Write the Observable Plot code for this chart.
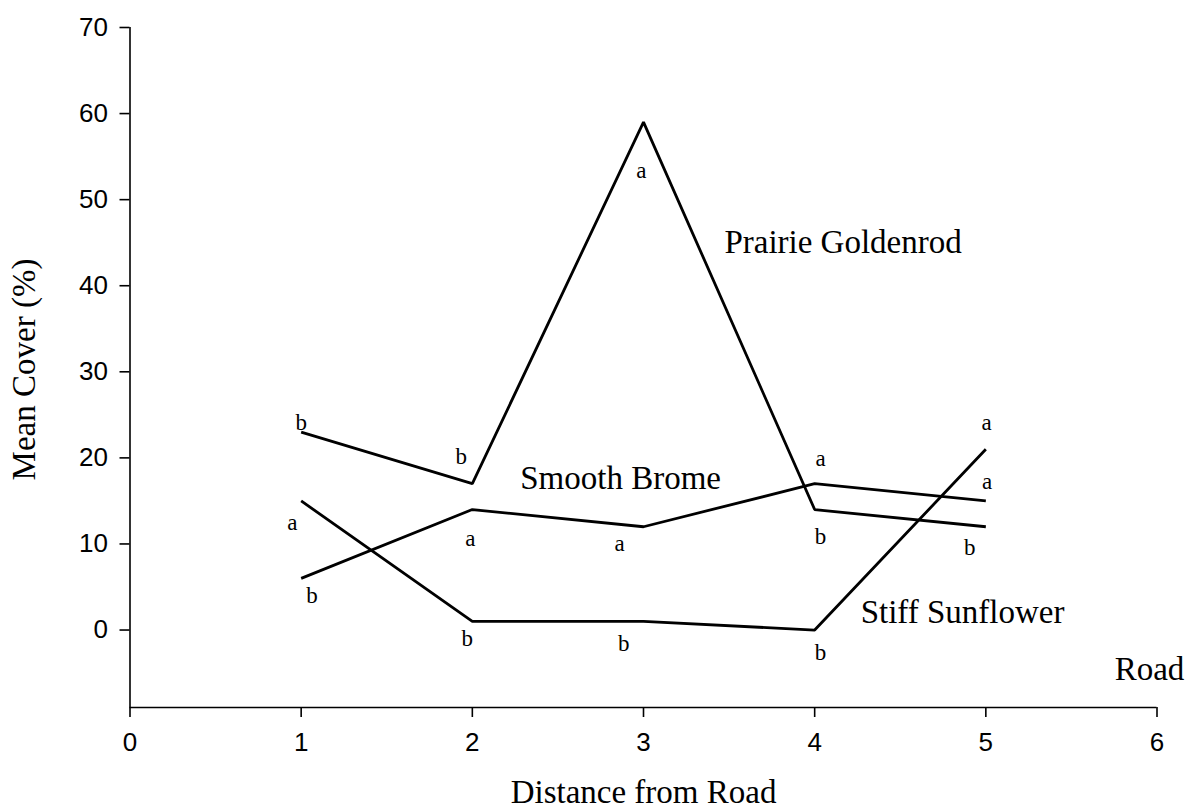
<!DOCTYPE html>
<html>
<head>
<meta charset="utf-8">
<script src="https://cdn.jsdelivr.net/npm/d3@7"></script>
<script src="https://cdn.jsdelivr.net/npm/@observablehq/plot@0.6"></script>
<style>
  html, body { margin: 0; padding: 0; background: #fff; }
  #chart svg { display: block; }
</style>
</head>
<body>
<div id="chart"></div>
<script>
// ---- data ----
const distance = [1, 2, 3, 4, 5];
const goldenrod = [23, 17, 59, 14, 12];
const brome = [6, 14, 12, 17, 15];
const sunflower = [15, 1, 1, 0, 21];

const xTicks = [0, 1, 2, 3, 4, 5, 6];
const yTicks = [0, 10, 20, 30, 40, 50, 60, 70];

// significance letters (annotation locations in data units)
const letterText = ["b","b","a","b","b",  "b","a","a","a","a",  "a","b","b","b","a"];
const letterX = [1.0, 1.935, 2.988, 4.034, 4.906,  1.064, 1.989, 2.861, 4.034, 5.008,  0.948, 1.97, 2.885, 4.034, 5.004];
const letterY = [24.1, 20.1, 53.4, 10.8, 9.6,  4.0, 10.6, 10.0, 19.9, 17.2,  12.5, -1.0, -1.6, -2.6, 24.1];

// series labels (annotation locations in data units)
const seriesNames = ["Prairie Goldenrod", "Smooth Brome", "Stiff Sunflower", "Road"];
const seriesLabelX = [4.166, 2.866, 4.864, 5.956];
const seriesLabelY = [45.0, 17.6, 2.0, -4.6];

// ---- build tables ----
const lineData = [
  ...distance.map((d, i) => ({series: "Prairie Goldenrod", x: d, y: goldenrod[i]})),
  ...distance.map((d, i) => ({series: "Smooth Brome", x: d, y: brome[i]})),
  ...distance.map((d, i) => ({series: "Stiff Sunflower", x: d, y: sunflower[i]}))
];
const letters = letterText.map((t, i) => ({t, x: letterX[i], y: letterY[i]}));
const labels = seriesNames.map((t, i) => ({t, x: seriesLabelX[i], y: seriesLabelY[i]}));

const serif = "'Liberation Serif', 'Times New Roman', serif";
const sans = "'Liberation Sans', Arial, sans-serif";

const chart = Plot.plot({
  width: 1191,
  height: 810,
  marginLeft: 129.5,
  marginRight: 34.5,
  marginTop: 27,
  marginBottom: 103,
  style: {background: "#fff", color: "#000", fontFamily: sans},
  x: {domain: [0, 6], axis: null},
  y: {domain: [-9, 70], axis: null},
  marks: [
    // axis lines
    Plot.ruleX([0], {y1: -9, y2: 70, stroke: "#000", strokeWidth: 1.6}),
    Plot.ruleY([-9], {x1: 0, x2: 6, stroke: "#000", strokeWidth: 1.6}),
    Plot.axisY({ticks: yTicks, anchor: "left", tickSize: 10, tickPadding: 12, fontSize: 26,
      fontFamily: sans, label: null, strokeWidth: 1.6, tickFormat: d => String(d)}),
    Plot.axisX({ticks: xTicks, anchor: "bottom", tickSize: 10, tickPadding: 15, fontSize: 26,
      fontFamily: sans, label: null, strokeWidth: 1.6, tickFormat: d => String(d)}),
    // series lines
    Plot.line(lineData, {x: "x", y: "y", z: "series", stroke: "#000", strokeWidth: 2.8,
      strokeLinejoin: "miter", strokeLinecap: "butt"}),
    // letters
    Plot.text(letters, {x: "x", y: "y", text: "t", fontSize: 23, fontFamily: serif,
      fill: "#000", lineAnchor: "middle", textAnchor: "middle"}),
    // series labels
    Plot.text(labels, {x: "x", y: "y", text: "t", fontSize: 33, fontFamily: serif,
      fill: "#000", lineAnchor: "middle", textAnchor: "middle"}),
    // axis titles
    Plot.text(["Distance from Road"], {frameAnchor: "bottom", dy: 85, text: d => d,
      fontSize: 33, fontFamily: serif, fill: "#000", lineAnchor: "middle", textAnchor: "middle"}),
    Plot.text(["Mean Cover (%)"], {frameAnchor: "left", dx: -106, dy: 2, text: d => d,
      rotate: -90, fontSize: 33, fontFamily: serif, fill: "#000", lineAnchor: "middle", textAnchor: "middle"})
  ]
});
document.getElementById("chart").appendChild(chart);
</script>
</body>
</html>
